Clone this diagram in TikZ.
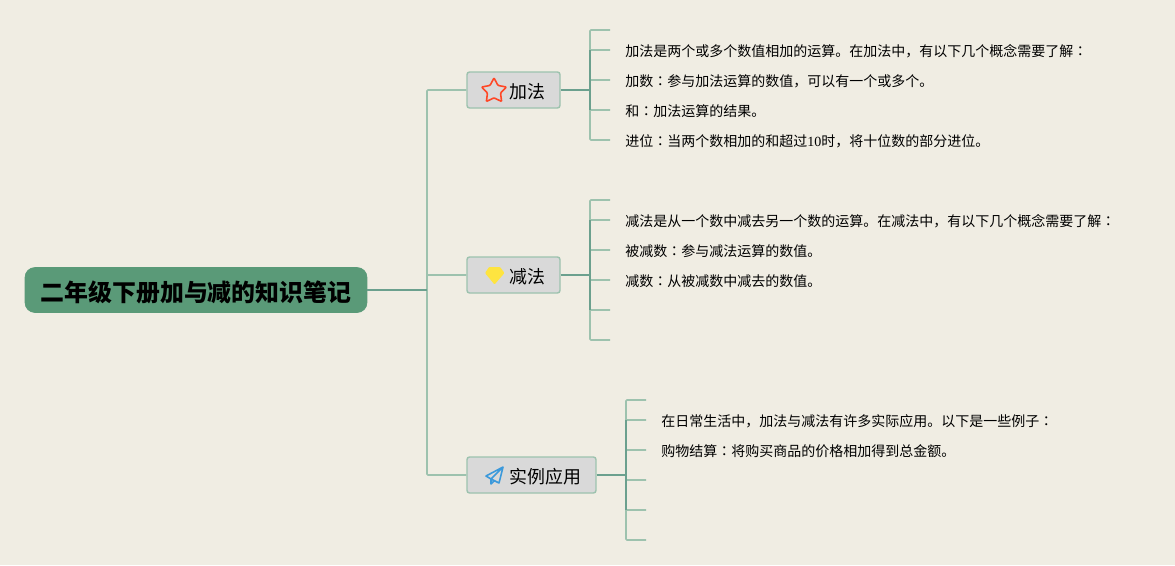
\documentclass[tikz,border=0pt]{standalone}
\usepackage{fontspec}
\setmainfont{Noto Sans CJK SC}
\newfontfamily\jpfont{Noto Sans CJK JP}
\newfontfamily\numfont{Liberation Serif}
\usetikzlibrary{shapes.geometric}

\definecolor{paper}{HTML}{F0EDE3}
\definecolor{rootgreen}{HTML}{5A9A78}
\definecolor{topicgray}{HTML}{D9D9D9}
\definecolor{lineLight}{HTML}{9DC2AE}
\definecolor{lineDark}{HTML}{6BA08E}

\tikzset{
  rootbox/.style={rectangle, rounded corners=0.2cm, fill=rootgreen, draw=rootgreen, minimum width=6.84cm, minimum height=0.9cm, inner sep=0pt, text height=12.6pt, text depth=0pt, font=\fontsize{13.6}{16}\selectfont\bfseries},
  topicbox/.style={rectangle, rounded corners=0.05cm, fill=topicgray, draw=lineLight, line width=0.8pt, minimum height=0.72cm, inner sep=0pt, text height=9.2pt, text depth=0pt, font=\fontsize{10.2}{12}\selectfont},
  leaf/.style={anchor=west, inner xsep=0.3cm, inner ysep=0pt, text height=8.7pt, text depth=1.3pt, font=\fontsize{7.97}{10}\selectfont},
  stub/.style={draw=lineLight, line width=0.9pt, rounded corners=0.5pt},
  busdark/.style={draw=lineDark, line width=0.9pt}
}
\newcommand{\cln}{{\jpfont ：}}

\begin{document}
\begin{tikzpicture}[x=0.02cm, y=-0.02cm]

% Background
\fill[paper] (0,0) rectangle (1175,565);
\useasboundingbox (0,0) rectangle (1175,565);

% Root and topics
\node[rootbox] (root) at (196,290) {二年级下册加与减的知识笔记};
\coordinate (trunk) at (427,290);

\node[topicbox, minimum width=1.86cm] (add) at (513.5,90) {\hspace*{0.56cm}加法};
\node[topicbox, minimum width=1.86cm] (sub) at (513.5,275) {\hspace*{0.56cm}减法};
\node[topicbox, minimum width=2.58cm] (use) at (531.5,475) {\hspace*{0.56cm}实例应用};

% Leaves of the first topic
\coordinate (busA) at (590,90);
\node[leaf] (addleaf1) at (610,30) {};
\node[leaf] (addleaf2) at (610,50) {加法是两个或多个数值相加的运算。在加法中，有以下几个概念需要了解\cln};
\node[leaf] (addleaf3) at (610,80) {加数\cln 参与加法运算的数值，可以有一个或多个。};
\node[leaf] (addleaf4) at (610,110) {和\cln 加法运算的结果。};
\node[leaf] (addleaf5) at (610,140) {进位\cln 当两个数相加的和超过{\numfont 10}时，将十位数的部分进位。};

% Leaves of the second topic
\coordinate (busB) at (590,275);
\node[leaf] (subleaf1) at (610,200) {};
\node[leaf] (subleaf2) at (610,220) {减法是从一个数中减去另一个数的运算。在减法中，有以下几个概念需要了解\cln};
\node[leaf] (subleaf3) at (610,250) {被减数\cln 参与减法运算的数值。};
\node[leaf] (subleaf4) at (610,280) {减数\cln 从被减数中减去的数值。};
\node[leaf] (subleaf5) at (610,310) {};
\node[leaf] (subleaf6) at (610,340) {};

% Leaves of the third topic
\coordinate (busC) at (626,475);
\node[leaf] (useleaf1) at (646,400) {};
\node[leaf] (useleaf2) at (646,420) {在日常生活中，加法与减法有许多实际应用。以下是一些例子\cln};
\node[leaf] (useleaf3) at (646,450) {购物结算\cln 将购买商品的价格相加得到总金额。};
\node[leaf] (useleaf4) at (646,480) {};
\node[leaf] (useleaf5) at (646,510) {};
\node[leaf] (useleaf6) at (646,540) {};

% Connectors
\draw[stub] (trunk) |- (add.west);
\draw[stub] (trunk) |- (sub.west);
\draw[stub] (trunk) |- (use.west);
\draw[busdark] (root.east) -- (trunk);

\foreach \n in {1,...,5}
    \draw[stub] (busA) |- (addleaf\n.west);
\foreach \n in {1,...,6}
    \draw[stub] (busB) |- (subleaf\n.west);
\foreach \n in {1,...,6}
    \draw[stub] (busC) |- (useleaf\n.west);

\draw[busdark] (busA |- addleaf2.west) -- (busA |- addleaf4.west);
\draw[busdark] (busB |- subleaf2.west) -- (busB |- subleaf5.west);
\draw[busdark] (busC |- useleaf2.west) -- (busC |- useleaf5.west);
\draw[busdark] (add.east) -- (busA);
\draw[busdark] (sub.east) -- (busB);
\draw[busdark] (use.east) -- (busC);

% Icons
\node[star, star points=5, star point ratio=1.9, draw=red!70!orange!85!white, line width=0.9pt, rounded corners=0.5pt, minimum size=0.52cm, inner sep=0pt] (staricon) at (494,91) {};
\fill[yellow!80!orange!75!white, rounded corners=0.5pt] (489,267) -- (500,267) -- (504.5,273) -- (494.5,284.5) -- (485,273) -- cycle;
\draw[cyan!70!blue!80, line width=0.9pt, line join=round] (503,467) -- (486,476) -- (491,479) -- cycle (503,467) -- (499,483) -- (491,479) -- (491,484) -- (494,481);

\end{tikzpicture}
\end{document}
